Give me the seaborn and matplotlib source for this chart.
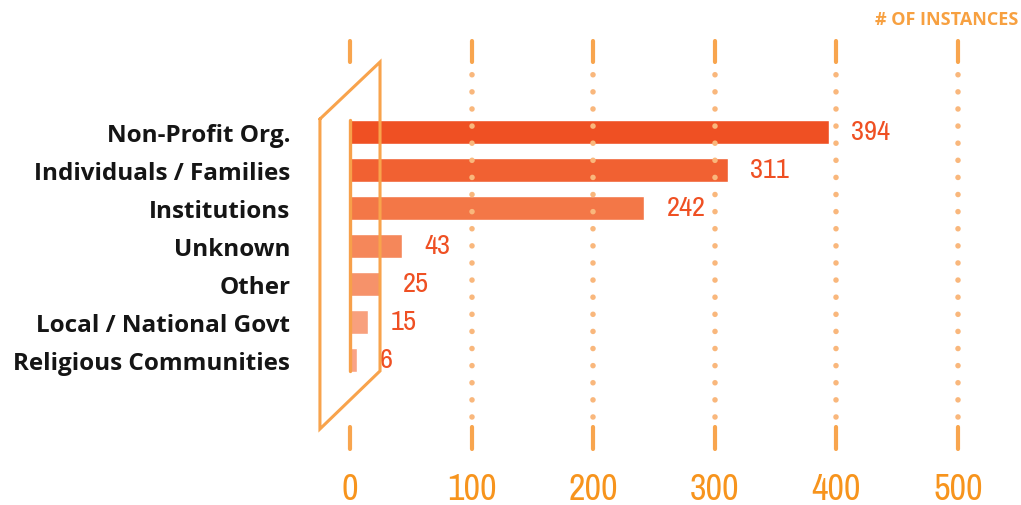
import matplotlib
matplotlib.use("Agg")
import matplotlib.pyplot as plt
import seaborn as sns

# data
categories = ["Non-Profit Org.", "Individuals / Families", "Institutions", "Unknown",
              "Other", "Local / National Govt", "Religious Communities"]
instances = [394, 311, 242, 43, 25, 15, 6]
bar_colors = ["#EF5023", "#F16132", "#F37747", "#F5875A", "#F6926A", "#F8A07D", "#F9A385"]
x_ticks = [0, 100, 200, 300, 400, 500]

sns.set_theme(style="white")
plt.rcParams["font.family"] = ["Open Sans", "DejaVu Sans"]
narrow = ["Archivo Narrow", "Liberation Sans Narrow", "DejaVu Sans"]

fig = plt.figure(figsize=(10.21, 5.06), dpi=100)
ax = fig.add_axes([300 / 1021, 54 / 506, 700 / 1021, 412 / 506])

sns.barplot(x=instances, y=categories, hue=categories, palette=bar_colors,
            legend=False, width=0.63, orient="h", ax=ax, saturation=1)

ax.set_xlim(-41.1, 534.5)
ax.set_ylim(8.395, -2.447)

# grid: dashes top and bottom, dotted in between
grid_c = "#F8A54E"
dot_c = "#F9B77C"
trans = ax.get_xaxis_transform()
for t in x_ticks:
    ax.plot([t, t], [0.944, 0.995], color=grid_c, lw=3, solid_capstyle="round",
            transform=trans, zorder=1)
    ax.plot([t, t], [0.005, 0.058], color=grid_c, lw=3, solid_capstyle="round",
            transform=trans, zorder=1)
    if t > 0:
        ax.plot([t, t], [0.083, 0.935], color=dot_c, lw=4, linestyle=(0, (0.01, 3.07)),
                dash_capstyle="round", transform=trans, zorder=1)

# axis line at zero through the bars
ax.plot([0, 0], [-0.31, 6.29], color="#F7A04A", lw=2.4, zorder=3)

# bracket shape
shape_x = [-24.7, 24.7, 24.7, -24.7, -24.7]
shape_y = [-0.342, -1.842, 6.289, 7.816, -0.342]
ax.plot(shape_x, shape_y, color="#F8A34C", lw=2.2, solid_joinstyle="miter", zorder=4)

# value labels
for i, v in enumerate(instances):
    ax.annotate(f"{v}", xy=(v, i), xytext=(16, 0), textcoords="offset points",
                va="center", ha="left", fontsize=20.5, color="#EF5023", family=narrow)

ax.set_yticks(range(len(categories)))
ax.set_yticklabels(categories, fontsize=17.5, fontweight="bold", color="#151515")
ax.set_xticks(x_ticks)
ax.set_xticklabels([str(t) for t in x_ticks], fontsize=26, color="#F7941D", family=narrow)
ax.tick_params(axis="y", length=0, pad=7)
ax.tick_params(axis="x", length=0, pad=15)
ax.set_xlabel("")
ax.set_ylabel("")
for s in ax.spines.values():
    s.set_visible(False)

fig.text(1018 / 1021, 1 - 20 / 506, "# OF INSTANCES", ha="right", va="center",
         fontsize=13, fontweight="bold", color="#F7A040")

fig.savefig("out.png", dpi=100, facecolor="white")
